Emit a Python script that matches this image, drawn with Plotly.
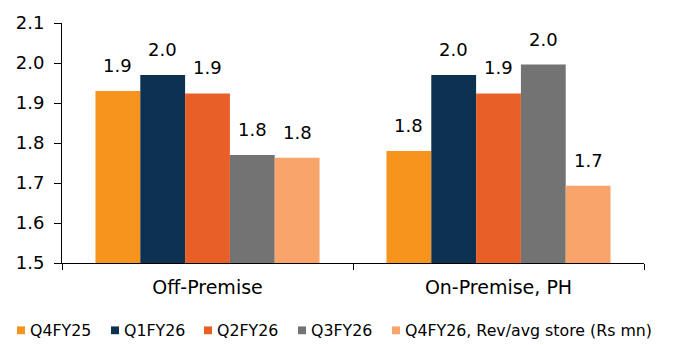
import plotly.graph_objects as go

# Revenue per average store (Rs mn) by channel
categories = ["Off-Premise", "On-Premise, PH"]
series_names = ["Q4FY25", "Q1FY26", "Q2FY26", "Q3FY26", "Q4FY26, Rev/avg store (Rs mn)"]
q4fy25 = [1.93, 1.78]
q1fy26 = [1.97, 1.97]
q2fy26 = [1.924, 1.924]
q3fy26 = [1.77, 1.996]
q4fy26 = [1.763, 1.693]
series_values = [q4fy25, q1fy26, q2fy26, q3fy26, q4fy26]
y_ticks = [1.5, 1.6, 1.7, 1.8, 1.9, 2.0, 2.1]

colors = ["#F7941D", "#0C3151", "#E95F28", "#737373", "#F8A46A"]
FONT = "DejaVu Sans, Verdana, sans-serif"

W, H = 675, 345
ML, MR, MT, MB = 62, 31, 17, 82
PW, PH = W - ML - MR, H - MT - MB
BARGAP = 0.23


def px_x(px):
    return (px - ML) / PW


def px_y(py):
    return (H - MB - py) / PH


fig = go.Figure()
for name, vals, col in zip(series_names, series_values, colors):
    fig.add_trace(go.Bar(
        x=categories, y=vals, name=name,
        marker=dict(color=col, line=dict(width=0)),
        showlegend=False,
    ))

# value labels above each bar
n = len(series_values)
w = (1 - BARGAP) / n
annotations = []
for j, vals in enumerate(series_values):
    for i, v in enumerate(vals):
        annotations.append(dict(
            x=i + (j - (n - 1) / 2) * w, y=v, xref="x", yref="y",
            text=f"{v:.1f}", showarrow=False, yanchor="bottom",
            yshift=13, font=dict(family=FONT, size=18, color="#000000"),
        ))

# legend row along the bottom
legend_x = [17, 111, 204, 298, 392]
legend_y = 332
shapes = []
for lx, name, col in zip(legend_x, series_names, colors):
    shapes.append(dict(
        type="rect", xref="paper", yref="paper",
        x0=px_x(lx), x1=px_x(lx + 8), y0=px_y(legend_y + 4), y1=px_y(legend_y - 4),
        fillcolor=col, line=dict(width=0),
    ))
    annotations.append(dict(
        x=px_x(lx + 11), y=px_y(legend_y), xref="paper", yref="paper",
        text=name, showarrow=False, xanchor="left", yanchor="middle",
        font=dict(family=FONT, size=15.8, color="#000000"),
    ))

fig.update_layout(
    width=W, height=H,
    margin=dict(l=ML, r=MR, t=MT, b=MB),
    paper_bgcolor="white", plot_bgcolor="white",
    barmode="group", bargap=BARGAP, bargroupgap=0,
    font=dict(family=FONT, size=17, color="#000000"),
    annotations=annotations, shapes=shapes,
    showlegend=False,
)
fig.update_xaxes(
    type="category", showline=True, linecolor="#000000", linewidth=1,
    ticks="outside", tickson="boundaries", ticklen=6, tickcolor="#000000",
    tickfont=dict(family=FONT, size=19, color="#000000"),
    ticklabelstandoff=7, showgrid=False, zeroline=False,
)
fig.update_yaxes(
    range=[1.5, 2.1], tickvals=y_ticks, ticktext=[f"{t:.1f}" for t in y_ticks],
    showline=True, linecolor="#000000", linewidth=1,
    ticks="outside", ticklen=7, tickcolor="#000000",
    tickfont=dict(family=FONT, size=18, color="#000000"),
    ticklabelstandoff=6, showgrid=False, zeroline=False,
)

fig.write_html("out.html")
